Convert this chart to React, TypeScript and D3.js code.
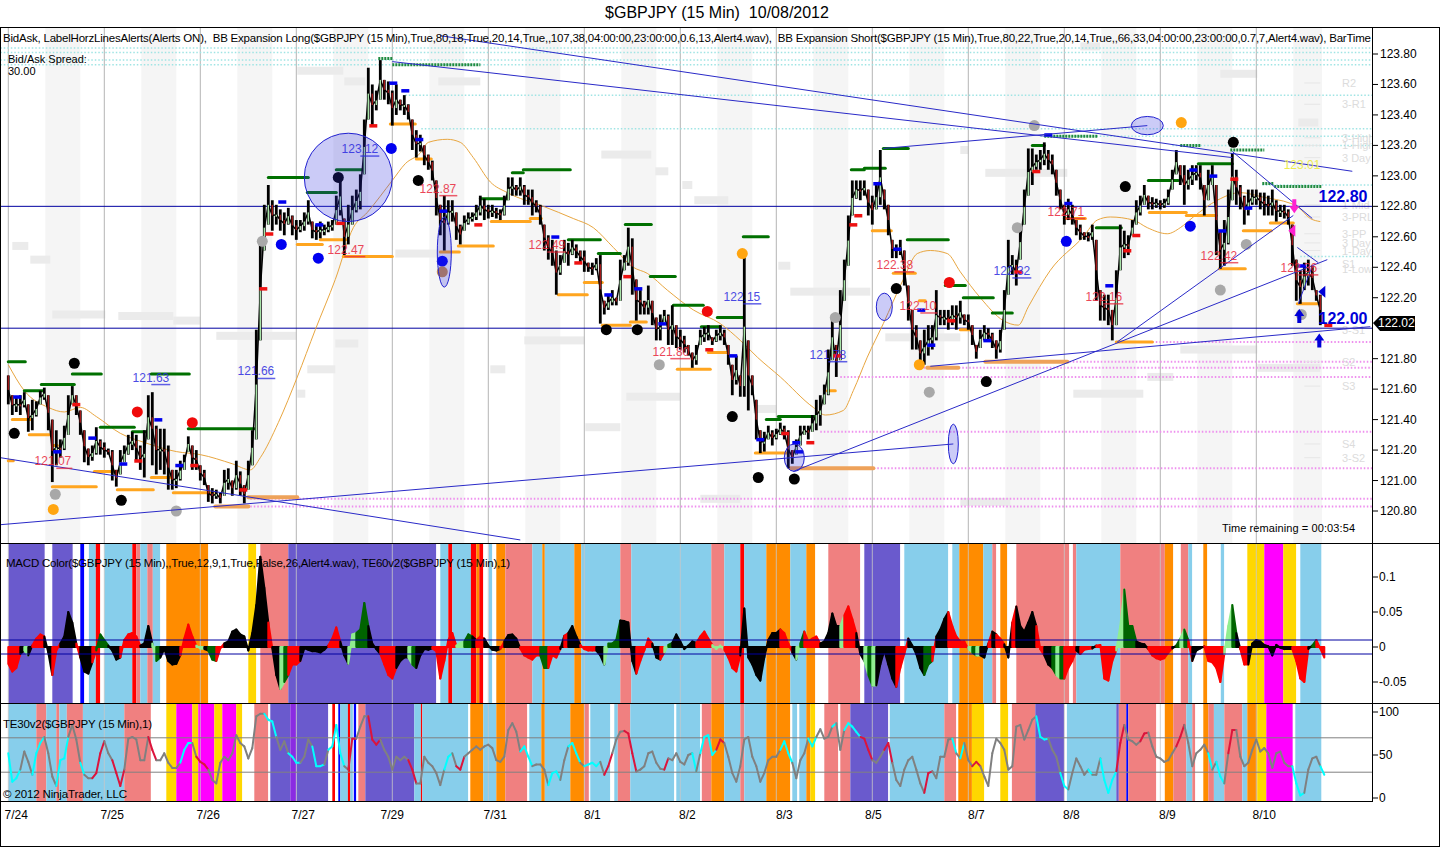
import React from 'react';
import * as d3 from 'd3';

// one entry per hour (4 x 15 min bars): [low, high]
const priceBars: [number, number][] = [
  [121.50,121.69],[121.43,121.56],[121.45,121.55],[121.43,121.56],[121.48,121.58],[121.32,121.50],[121.33,121.53],[121.42,121.52],
  [121.50,121.59],[121.53,121.61],[121.33,121.56],[120.99,121.40],[121.10,121.33],[121.15,121.27],[121.20,121.36],[121.30,121.56],
  [121.50,121.62],[121.43,121.56],[121.30,121.46],[121.12,121.33],[121.10,121.21],[121.13,121.23],[121.17,121.35],[121.17,121.27],
  [121.15,121.25],[121.17,121.21],[121.00,121.20],[120.96,121.07],[121.04,121.20],[121.12,121.23],[121.17,121.30],[121.20,121.32],
  [121.13,121.30],[121.07,121.23],[121.02,121.33],[121.27,121.56],[121.10,121.58],[121.04,121.36],[121.07,121.34],[121.04,121.34],
  [120.94,121.23],[120.94,121.07],[120.95,121.07],[121.00,121.13],[121.07,121.17],[121.19,121.29],[121.07,121.23],[121.07,121.20],
  [121.00,121.10],[120.97,121.07],[120.86,120.97],[120.85,120.95],[120.88,120.94],[120.85,120.92],[120.90,121.07],[120.94,121.08],
  [120.90,121.00],[120.94,121.13],[120.90,121.06],[120.85,120.97],[120.94,121.13],[121.10,121.33],[121.27,121.99],[121.92,122.58],
  [122.51,122.81],[122.68,122.94],[122.64,122.84],[122.68,122.81],[122.64,122.78],[122.61,122.76],[122.68,122.79],[122.61,122.74],
  [122.58,122.71],[122.63,122.71],[122.64,122.76],[122.68,122.84],[122.59,122.70],[122.58,122.68],[122.59,122.70],[122.61,122.68],
  [122.63,122.70],[122.64,122.71],[122.68,122.87],[122.74,122.99],[122.48,122.72],[122.55,122.81],[122.68,122.87],[122.76,122.91],
  [122.78,123.01],[123.01,123.37],[123.37,123.71],[123.33,123.60],[123.43,123.56],[123.50,123.76],[123.50,123.63],[123.47,123.62],
  [123.33,123.56],[123.40,123.60],[123.43,123.50],[123.40,123.53],[123.37,123.47],[123.17,123.37],[123.12,123.30],[123.16,123.27],
  [123.07,123.20],[123.04,123.14],[122.97,123.10],[122.74,122.97],[122.61,122.81],[122.51,122.87],[122.68,122.84],[122.70,122.84],
  [122.58,122.76],[122.55,122.68],[122.64,122.74],[122.68,122.76],[122.70,122.76],[122.71,122.81],[122.74,122.87],[122.71,122.85],
  [122.72,122.81],[122.73,122.81],[122.72,122.79],[122.71,122.78],[122.74,122.87],[122.84,122.99],[122.87,122.99],[122.87,122.94],
  [122.87,122.99],[122.81,122.94],[122.81,122.91],[122.74,122.91],[122.76,122.84],[122.68,122.81],[122.51,122.68],[122.45,122.61],
  [122.41,122.58],[122.22,122.51],[122.35,122.48],[122.43,122.58],[122.41,122.56],[122.48,122.58],[122.46,122.55],[122.43,122.51],
  [122.37,122.51],[122.37,122.43],[122.35,122.43],[122.38,122.46],[122.03,122.48],[122.09,122.18],[122.12,122.22],[122.15,122.25],
  [122.15,122.20],[122.18,122.45],[122.38,122.48],[122.41,122.66],[122.22,122.59],[122.05,122.32],[122.09,122.25],[122.09,122.18],
  [122.09,122.28],[122.02,122.18],[121.92,122.07],[121.92,122.09],[122.04,122.12],[121.89,122.09],[121.89,122.15],[121.87,122.02],
  [121.86,121.99],[121.84,121.95],[121.82,121.89],[121.74,121.84],[121.76,121.89],[121.89,121.99],[121.91,122.01],[121.92,122.02],
  [121.89,121.94],[121.91,121.99],[121.92,122.02],[121.89,121.99],[121.76,121.89],[121.56,121.76],[121.63,121.82],[121.55,121.69],
  [121.55,122.47],[121.46,121.92],[121.56,121.69],[121.27,121.53],[121.18,121.33],[121.19,121.32],[121.27,121.36],[121.23,121.33],
  [121.27,121.34],[121.30,121.38],[121.27,121.36],[121.08,121.33],[121.11,121.20],[121.17,121.27],[121.23,121.36],[121.30,121.36],
  [121.27,121.36],[121.32,121.43],[121.33,121.53],[121.36,121.56],[121.50,121.63],[121.56,121.86],[121.79,122.09],[121.68,121.89],
  [121.79,122.25],[122.18,122.45],[122.41,122.74],[122.74,122.97],[122.85,122.97],[122.84,122.97],[122.87,122.97],[122.74,122.91],
  [122.68,122.87],[122.78,122.94],[122.81,123.17],[122.78,122.91],[122.61,122.81],[122.46,122.58],[122.46,122.55],[122.48,122.58],
  [122.28,122.51],[122.05,122.28],[121.86,122.12],[121.86,122.02],[121.75,121.92],[121.76,121.99],[121.82,122.02],[121.86,122.02],
  [121.92,122.25],[122.02,122.12],[122.02,122.12],[121.99,122.12],[122.02,122.15],[121.99,122.15],[122.03,122.18],[122.02,122.09],
  [121.99,122.09],[121.89,122.02],[121.80,121.89],[121.87,121.99],[121.92,122.02],[121.92,122.00],[121.87,121.97],[121.80,121.92],
  [121.84,121.99],[121.99,122.25],[122.22,122.58],[122.35,122.48],[122.28,122.45],[122.45,122.68],[122.68,122.91],[122.87,123.18],
  [122.94,123.18],[123.04,123.14],[123.04,123.17],[123.07,123.22],[123.04,123.17],[123.01,123.14],[122.87,123.04],[122.78,122.91],
  [122.68,122.81],[122.71,122.85],[122.68,122.81],[122.61,122.71],[122.58,122.68],[122.58,122.63],[122.57,122.63],[122.58,122.68],
  [122.18,122.58],[122.05,122.25],[122.05,122.22],[122.02,122.22],[121.92,122.12],[122.02,122.38],[122.38,122.68],[122.46,122.64],
  [122.48,122.61],[122.61,122.71],[122.68,122.84],[122.74,122.87],[122.81,122.94],[122.78,122.87],[122.78,122.86],[122.79,122.85],
  [122.78,122.84],[122.79,122.85],[122.81,122.91],[122.91,123.04],[123.01,123.17],[122.94,123.07],[122.81,123.07],[122.91,123.04],
  [122.94,123.07],[122.97,123.07],[122.91,123.07],[122.74,122.94],[122.84,123.04],[122.94,123.07],[122.48,122.94],[122.39,122.64],
  [122.41,122.71],[122.55,122.91],[122.84,123.15],[122.81,123.04],[122.78,122.94],[122.68,122.87],[122.74,122.91],[122.81,122.91],
  [122.81,122.91],[122.78,122.89],[122.74,122.89],[122.74,122.87],[122.74,122.91],[122.70,122.84],[122.73,122.81],[122.72,122.81],
  [122.68,122.78],[122.41,122.68],[122.18,122.45],[122.16,122.38],[122.25,122.43],[122.28,122.45],[122.25,122.41],[122.18,122.25],
  [122.02,122.22],
];

// [bar, price]
const maPoints: [number, number][] = [
  [0,121.76],[16,121.59],[40,121.48],[56,121.45],[72,121.48],[88,121.42],[112,121.31],[136,121.25],[168,121.19],[192,121.17],
  [224,121.11],[242,121.07],[252,121.15],[270,121.38],[289,121.68],[307,121.99],[327,122.32],[345,122.66],[359,122.76],[384,122.97],
  [397,123.08],[412,123.15],[420,123.22],[439,123.24],[452,123.22],[465,123.12],[482,122.96],[499,122.89],[535,122.80],[565,122.72],
  [585,122.66],[605,122.53],[625,122.40],[639,122.36],[659,122.25],[685,122.12],[712,122.03],[732,121.92],[749,121.81],[772,121.68],
  [805,121.48],[817,121.43],[835,121.46],[845,121.59],[859,121.81],[875,122.03],[895,122.32],[909,122.49],[922,122.51],[939,122.49],
  [952,122.37],[972,122.20],[995,122.05],[1010,122.02],[1020,122.14],[1042,122.38],[1075,122.60],[1089,122.71],[1102,122.73],[1125,122.71],
  [1139,122.66],[1159,122.62],[1172,122.66],[1185,122.73],[1209,122.84],[1232,122.89],[1255,122.86],[1282,122.82],[1289,122.80],[1302,122.72],[1312,122.70],
];

// [startBar, endBar, price]
const greenLevels: [number, number, number][] = [
  [0,17,121.78],[16,35,121.59],[33,66,121.63],[64,93,121.70],[92,126,121.35],[124,138,121.32],[143,181,121.70],[180,246,121.34],
  [260,300,122.99],[299,328,122.89],[328,354,123.04],[472,499,122.85],[504,515,123.02],[515,562,123.04],[560,592,122.58],[590,612,122.49],
  [617,643,122.68],[642,667,122.34],[665,695,122.15],[693,712,122.01],[709,735,122.07],[735,760,122.60],[758,772,121.40],[770,807,121.42],
  [843,856,123.04],[856,877,123.05],[875,900,123.18],[899,940,122.58],[937,957,122.28],[955,985,122.20],[984,1004,122.10],[1024,1036,123.20],
  [1088,1113,122.66],[1140,1170,122.97],[1190,1224,123.08],
];
const greenDotted: [number, number, number][] = [
  [370,384,123.77],[384,472,123.73],[1036,1090,123.26],[1172,1192,123.20],[1222,1256,123.17],[1254,1266,122.95],[1266,1313,122.93],
];
const orangeLevels: [number, number, number][] = [
  [0,5,121.13],[4,22,121.40],[21,41,121.30],[44,49,121.23],[44,88,120.96],[86,109,121.06],[109,145,120.94],[143,162,121.02],[165,205,120.92],
  [289,314,122.55],[312,338,122.58],[335,384,122.47],[382,407,123.34],[408,423,123.11],[432,451,122.50],[450,485,122.54],[483,522,122.70],
  [522,533,122.72],[550,579,122.22],[576,594,122.30],[594,622,122.02],[622,638,122.04],[669,702,121.73],[700,719,121.84],[747,780,121.18],
  [819,827,121.59],[864,883,122.64],[885,907,122.36],[911,917,122.18],[952,964,121.99],[1056,1077,122.72],[1108,1144,121.91],[1141,1178,122.76],
  [1178,1208,122.74],[1211,1237,122.39],[1235,1263,122.64],[1262,1285,122.69],[1289,1311,122.16],
];
const sandyLevels: [number, number, number][] = [
  [207,240,120.83],[240,289,120.89],[782,865,121.08],[919,950,121.74],[977,1059,121.78],
];
const faintSteps: [number, number, number][] = [
  [289,335,123.69],[336,357,123.62],[430,472,123.62],[4,20,122.54],[22,42,122.45],[44,97,122.09],[110,165,122.08],[165,192,122.05],
  [208,288,121.95],[327,350,121.90],[299,327,121.73],[289,297,121.57],[387,432,122.49],[593,643,123.14],[647,660,123.03],[674,684,122.94],
  [686,720,122.84],[770,782,122.41],[782,862,122.24],[516,576,121.92],[482,497,121.73],[577,612,121.35],[618,672,121.55],[692,732,120.88],
  [745,768,121.47],[877,952,121.94],[952,960,123.17],[977,1059,123.02],[1290,1310,123.35],[1212,1249,123.67],[1072,1092,123.85],
  [1065,1135,121.57],[1139,1165,121.68],[1172,1249,121.86],[1249,1312,121.74],[952,1002,120.86],
];

// [bar, price]
const blackDots: [number, number][] = [[6,121.31],[66,121.77],[113,120.87],[330,122.99],[410,122.97],[598,121.99],[629,121.99],[724,121.42],[750,121.02],[786,121.01],[888,122.26],[978,121.65],[1117,122.93],[1225,123.22]];
const redDots: [number, number][] = [[129,121.45],[184,121.38],[699,122.11],[941,122.30]];
const blueDots: [number, number][] = [[273,122.55],[310,122.46],[383,123.18],[434,122.44],[1058,122.57],[1182,122.67]];
const goldDots: [number, number][] = [[45,120.81],[734,122.49],[911,121.76],[1173,123.35]];
const grayDots: [number, number][] = [[47,120.91],[168,120.80],[254,122.57],[651,121.76],[827,122.07],[921,121.58],[1009,122.66],[1026,123.33],[1238,122.55],[1212,122.25],[1293,122.09]];
const tanDots: [number, number][] = [[434,122.37]];

const redTicks: [number, number][] = [[365,123.33],[261,122.62],[332,122.69],[255,122.26],[68,121.50],[130,121.13],[186,121.10],[235,120.94],[470,122.68],[570,122.43],[619,122.34],[701,121.86],[777,121.31],[802,121.25],[850,122.74],[845,122.68],[829,121.82],[943,122.05],[1028,123.03],[1128,122.61],[1119,122.51],[1010,122.37],[1226,122.98],[1320,122.02]];
const blueTicks: [number, number][] = [[274,122.83],[311,122.68],[385,123.61],[397,123.56],[411,123.24],[9,121.55],[49,121.19],[84,121.28],[115,121.11],[150,121.40],[171,121.10],[435,122.77],[547,122.60],[600,122.22],[630,122.26],[654,122.03],[725,121.82],[752,121.27],[788,121.25],[791,121.19],[869,122.95],[889,122.52],[913,122.12],[923,121.89],[979,121.92],[1040,123.27],[1060,122.82],[1101,122.28],[1185,123.04],[1205,123.00],[1214,122.64],[1240,122.79],[1294,122.41]];

// [text, startBar, endBar, price]
const redLabels: [string, number, number, number][] = [
  ['121.07',48,64,121.08],['122.87',431,449,122.87],['122.47',336,357,122.47],['122.49',539,558,122.50],['121.80',662,682,121.80],
  ['122.38',886,906,122.37],['122.10',912,929,122.10],['122.71',1057,1077,122.72],['122.16',1095,1115,122.16],['122.42',1212,1230,122.43],['122.36',1290,1310,122.35],
];
const blueLabels: [string, number, number, number][] = [
  ['123.12',352,371,123.13],['121.63',143,162,121.63],['121.66',249,267,121.67],['122.15',735,753,122.16],['121.78',820,839,121.78],['122.32',1004,1023,122.33],
];

// [bar0, price0, bar1, price1]
const trendLines: [number, number, number, number][] = [
  [-8,121.15,512,120.61],[-8,120.71,945,121.24],[922,121.75,1362,122.01],[785,121.06,1319,122.45],[1109,121.91,1285,122.74],
  [432,123.92,1344,123.03],[384,123.75,1224,123.12],[875,123.18,1139,123.33],[1224,123.16,1304,122.72],[1289,122.53,1310,122.43],[1290,122.16,1304,122.41],
];
// [bar, price, barRadius, priceRadius]
const ellipses: [number, number, number, number][] = [
  [340,122.99,44,0.29],[436,122.50,7,0.23],[876,122.14,8,0.09],[945,121.24,5,0.13],[786,121.15,10,0.09],[1139,123.33,16,0.06],
];
// [startBar, price]
const cyanPivots: [number, number][] = [[-8,123.84],[-8,123.81],[-8,123.76],[-8,123.73],[397,123.53],[413,123.31],[1032,123.26],[1164,123.20],[1254,122.94],[1292,122.47]];
const pinkPivots: [number, number][] = [[242,120.88],[242,120.83],[792,121.08],[812,121.32],[832,121.68],[912,121.74],[977,121.78],[1109,121.91]];
const pivotLabels: [string, number][] = [
  ['R2',123.61],['3-R1',123.47],['3-High',123.25],['1-High',123.20],['3 Day',123.12],['1-Mid',122.81],['3-PRL',122.73],['3-PP',122.62],
  ['3 Day',122.56],['1-Day',122.51],['S1',122.42],['1-Low',122.39],['3-S1',121.99],['S2',121.78],['S3',121.62],['S4',121.24],['3-S2',121.15],
];
// 122.00 sits under the last-price tag
const priceTicks = [123.8,123.6,123.4,123.2,123.0,122.8,122.6,122.4,122.2,121.8,121.6,121.4,121.2,121.0,120.8];
const macdTicks = [0.1,0.05,0,-0.05];
const teTicks = [100,50,0];
const sessionBars = [0,96,192,288,384,480,576,672,768,864,960,1056,1152,1248];
const dateLabels = ['7/24','7/25','7/26','7/27','7/29','7/31','8/1','8/2','8/3','8/5','8/7','8/8','8/9','8/10'];
const dateBars = [8,104,200,295,384,487,584,679,776,865,968,1063,1159,1256];

const bandColors: Record<string, string> = {
  s: '#6a5acd', k: '#87ceeb', c: '#f08080', o: '#ff8c00', y: '#ffd700', r: '#ff0000', b: '#0000ff', w: '#ffffff', m: '#ff00ff', v: '#8a2be2',
};
const macdBands: [number, number, string][] = [
  [0,36.5,'s'],[36.5,44,'w'],[44,64.5,'s'],[64.5,72,'w'],[72,76,'b'],[76,80.6,'w'],[80.6,87.5,'k'],[87.5,92,'r'],[92,96,'w'],[96,124,'k'],
  [124,128,'r'],[128,132,'c'],[132,139,'k'],[139,144.5,'c'],[144.5,152,'k'],[152,158,'w'],[158,200,'o'],[200,240,'w'],[240,248,'y'],[248,252,'w'],
  [252,280,'c'],[280,428,'s'],[428,432,'w'],[432,440,'k'],[440,444,'r'],[444,462.6,'k'],[462.6,468,'r'],[468,471,'o'],[471,475,'r'],[475,480.5,'w'],
  [480.5,484,'k'],[484,488,'w'],[488,497,'o'],[497,524,'c'],[524,534,'k'],[534,536.5,'o'],[536.5,566,'k'],[566,573,'o'],[573,612,'k'],[612,623,'c'],
  [623,703,'k'],[703,716,'c'],[716,732,'k'],[732,736,'r'],[736,758,'k'],[758,782,'o'],[782,798,'k'],[798,807,'o'],[807,820,'w'],[820,852,'c'],
  [852,856,'w'],[856,892,'s'],[892,896,'w'],[896,940,'k'],[940,944,'w'],[944,951,'k'],[951,975,'o'],[975,984,'k'],[984,988,'c'],[988,992,'w'],
  [992,999,'o'],[999,1008,'w'],[1008,1061,'c'],[1061,1064.6,'w'],[1064.6,1068,'c'],[1068,1112,'k'],[1112,1156.5,'c'],[1156.5,1165,'o'],[1165,1172.5,'w'],[1172.5,1180,'c'],
  [1180,1184,'k'],[1184,1195,'w'],[1195,1199,'o'],[1199,1212.5,'w'],[1212.5,1216,'k'],[1216,1239,'w'],[1239,1256,'y'],[1256,1275,'m'],[1275,1288,'y'],[1288,1292,'w'],[1292,1313,'k'],
];
const teBands: [number, number, string][] = [
  [0,28,'k'],[28,38,'c'],[38,48,'k'],[48,51,'c'],[51,58.5,'k'],[58.5,74.6,'c'],[74.6,116,'k'],[116,142.6,'c'],[142.6,158,'w'],[158,168,'y'],
  [168,184,'m'],[184,190,'y'],[190,206,'m'],[206,214,'y'],[214,228,'m'],[228,234,'y'],[234,246,'w'],[246,260,'c'],[260,262,'w'],[262,282,'s'],
  [282,288,'v'],[288,320,'s'],[320,324,'w'],[324,326.7,'r'],[326.7,330,'w'],[330,332,'b'],[332,339.6,'k'],[339.6,342,'r'],[342,344.6,'k'],[344.6,345.5,'w'],
  [345.5,348,'b'],[348,350,'w'],[350,357,'c'],[357,406,'s'],[406,412.6,'k'],[412.6,414,'r'],[414,460,'k'],[460,462,'w'],[462,475,'o'],[475,488,'k'],
  [488,497,'o'],[497,519,'c'],[519,521,'w'],[521,533,'k'],[533,536.5,'o'],[536.5,562,'k'],[562,576,'o'],[576,580.6,'c'],[580.6,582,'w'],[582,602,'k'],
  [602,606,'w'],[606,609.5,'k'],[609.5,622,'c'],[622,666,'k'],[666,668,'w'],[668,692,'k'],[692,693.5,'w'],[693.5,703,'c'],[703,716,'o'],[716,732,'k'],
  [732,736,'c'],[736,758,'k'],[758,782,'o'],[782,784,'w'],[784,789,'k'],[789,791,'w'],[791,798,'k'],[798,802,'o'],[802,807,'y'],[807,816,'w'],
  [816,830,'c'],[830,832,'w'],[832,842,'c'],[842,880,'s'],[880,881.5,'w'],[881.5,936,'k'],[936,948,'c'],[948,950,'w'],[950,963.6,'o'],[963.6,976,'y'],
  [976,992,'w'],[992,1000,'y'],[1000,1003.6,'w'],[1003.6,1027,'c'],[1027,1056,'s'],[1056,1058.6,'w'],[1058.6,1108,'k'],[1108,1110.5,'s'],[1110.5,1118,'c'],[1118,1120,'b'],
  [1120,1148,'c'],[1148,1156.5,'w'],[1156.5,1165,'o'],[1165,1178,'c'],[1178,1184,'k'],[1184,1187,'c'],[1187,1195,'w'],[1195,1200,'o'],[1200,1205.6,'c'],[1205.6,1216,'k'],
  [1216,1234,'c'],[1234,1239,'k'],[1239,1249,'o'],[1249,1258,'y'],[1258,1284.5,'m'],[1284.5,1287,'w'],[1287,1313,'k'],
];

const macdColors: Record<string, string> = { k: '#000000', r: '#ff0000', g: '#006400', l: '#90ee90' };
// one entry per hour: [macd value, colour key]
const macdBars: [number, string][] = [
  [-.024,'k'],[-.035,'r'],[-.03,'r'],[-.01,'r'],[-.005,'k'],[-.012,'l'],[.002,'k'],[.012,'r'],[.018,'r'],[.015,'r'],[-.008,'k'],[-.04,'k'],[-.005,'r'],[.005,'r'],[.015,'k'],[.05,'k'],
  [.035,'k'],[.005,'k'],[-.015,'r'],[-.035,'k'],[-.038,'k'],[-.022,'k'],[-.005,'r'],[.018,'g'],[.01,'g'],[.002,'g'],[-.005,'k'],[-.018,'k'],[-.015,'k'],[.01,'r'],[.018,'r'],[.02,'r'],
  [.015,'r'],[.002,'r'],[.005,'k'],[.03,'k'],[.005,'k'],[-.02,'l'],[-.015,'g'],[-.003,'k'],[-.02,'k'],[-.025,'k'],[-.024,'k'],[-.012,'k'],[.012,'r'],[.032,'r'],[.015,'r'],[.002,'r'],
  [-.002,'l'],[-.003,'l'],[-.005,'k'],[-.018,'g'],[-.02,'g'],[-.002,'r'],[.005,'r'],[.008,'k'],[.022,'k'],[.025,'k'],[.018,'k'],[.015,'k'],[-.005,'k'],[.02,'k'],[.06,'k'],[.129,'k'],
  [.085,'k'],[.035,'k'],[-.002,'r'],[-.04,'k'],[-.06,'k'],[-.05,'l'],[-.04,'g'],[-.025,'r'],[-.025,'r'],[-.02,'r'],[-.002,'k'],[-.004,'k'],[-.006,'k'],[-.006,'k'],[-.008,'k'],[-.004,'k'],
  [.002,'k'],[.012,'r'],[.028,'r'],[.008,'r'],[-.012,'k'],[-.024,'k'],[.018,'l'],[.02,'l'],[.025,'g'],[.063,'g'],[.03,'g'],[.005,'k'],[-.003,'k'],[-.01,'k'],[-.025,'r'],[-.04,'r'],
  [-.045,'r'],[-.03,'r'],[-.02,'k'],[-.015,'k'],[-.015,'k'],[-.025,'l'],[-.03,'g'],[-.012,'k'],[-.003,'k'],[-.004,'k'],[-.002,'k'],[-.006,'r'],[-.045,'r'],[-.02,'r'],[.01,'r'],[.02,'r'],
  [.002,'r'],[.006,'l'],[.008,'l'],[.018,'g'],[.015,'g'],[.01,'k'],[.015,'r'],[.012,'r'],[.002,'k'],[-.004,'k'],[-.005,'k'],[-.003,'k'],[.008,'r'],[.017,'k'],[.018,'k'],[.012,'k'],
  [-.002,'k'],[-.012,'r'],[-.015,'r'],[-.018,'r'],[-.012,'r'],[-.012,'r'],[-.03,'g'],[-.03,'g'],[-.012,'r'],[-.015,'r'],[-.003,'r'],[.016,'k'],[.02,'r'],[.03,'k'],[.015,'k'],[.003,'k'],
  [-.003,'r'],[-.005,'r'],[-.005,'r'],[-.005,'r'],[-.012,'k'],[-.025,'k'],[.005,'l'],[.005,'g'],[.01,'g'],[.038,'g'],[.037,'k'],[.035,'k'],[-.02,'k'],[-.038,'k'],[-.02,'r'],[-.005,'r'],
  [.012,'r'],[.005,'r'],[-.015,'k'],[-.018,'k'],[-.008,'r'],[.003,'l'],[.006,'g'],[.018,'k'],[.008,'k'],[-.003,'k'],[.002,'k'],[.008,'k'],[.006,'k'],[.015,'r'],[.022,'r'],[.012,'r'],
  [.003,'r'],[-.003,'l'],[.002,'l'],[-.004,'l'],[-.015,'r'],[-.03,'r'],[-.035,'r'],[-.012,'r'],[.055,'k'],[-.015,'k'],[-.025,'k'],[-.04,'k'],[-.048,'k'],[-.015,'k'],[.01,'k'],[.02,'k'],
  [.02,'k'],[.025,'k'],[.02,'r'],[.005,'r'],[-.008,'r'],[-.018,'k'],[.005,'l'],[.022,'g'],[.008,'r'],[.012,'r'],[.015,'r'],[.005,'r'],[.008,'k'],[.02,'k'],[.048,'k'],[.03,'k'],
  [.03,'k'],[.045,'l'],[.058,'r'],[.04,'r'],[.02,'r'],[-.01,'k'],[-.02,'k'],[-.04,'l'],[-.055,'g'],[-.055,'l'],[-.025,'k'],[-.005,'k'],[-.025,'k'],[-.045,'k'],[-.057,'k'],[-.03,'r'],
  [-.01,'r'],[.012,'r'],[.002,'k'],[-.01,'k'],[-.03,'k'],[-.04,'k'],[-.025,'g'],[-.02,'g'],[.015,'r'],[.025,'k'],[.04,'k'],[.05,'k'],[.03,'r'],[.015,'r'],[.008,'r'],[.008,'r'],
  [-.003,'r'],[-.008,'l'],[-.012,'g'],[-.012,'l'],[-.015,'k'],[.005,'k'],[.022,'r'],[.018,'k'],[.012,'r'],[.004,'r'],[-.015,'k'],[.035,'k'],[.058,'r'],[.03,'k'],[.022,'k'],[.035,'k'],
  [.05,'k'],[.03,'k'],[-.003,'r'],[-.012,'r'],[-.025,'k'],[-.03,'k'],[-.04,'g'],[-.045,'l'],[-.045,'g'],[-.03,'r'],[-.02,'r'],[-.005,'r'],[-.01,'k'],[-.004,'r'],[-.003,'r'],[-.002,'r'],
  [.002,'k'],[.003,'r'],[-.045,'r'],[-.048,'r'],[-.02,'r'],[-.005,'r'],[.03,'l'],[.082,'l'],[.03,'g'],[.03,'g'],[.008,'g'],[.005,'k'],[.004,'k'],[-.003,'k'],[-.012,'r'],[-.016,'r'],
  [-.018,'r'],[-.016,'r'],[-.008,'r'],[-.002,'r'],[.002,'k'],[.012,'g'],[.025,'l'],[.01,'g'],[-.02,'r'],[-.005,'k'],[-.002,'k'],[.001,'k'],[-.02,'r'],[-.022,'r'],[-.03,'r'],[-.05,'r'],
  [-.01,'r'],[.03,'l'],[.06,'l'],[.02,'g'],[-.003,'k'],[-.025,'r'],[-.025,'r'],[.005,'k'],[.01,'k'],[.008,'k'],[.003,'k'],[.001,'k'],[-.012,'k'],[.003,'k'],[-.001,'k'],[-.003,'k'],
  [-.003,'k'],[-.003,'k'],[-.02,'r'],[-.045,'r'],[-.05,'r'],[-.003,'r'],[.002,'k'],[.01,'g'],[-.002,'r'],[-.015,'r'],
];

const teColors: Record<string, string> = { g: '#808080', c: '#00ffff', r: '#dc143c' };
// one entry per hour: [TE30 value, colour key]
const tePoints: [number, string][] = [
  [52,'g'],[19,'c'],[23,'c'],[33,'c'],[54,'g'],[42,'g'],[27,'g'],[52,'c'],[64,'c'],[71,'c'],[52,'g'],[25,'g'],[14,'g'],[44,'c'],[46,'c'],[71,'c'],
  [85,'g'],[68,'g'],[41,'g'],[27,'c'],[23,'g'],[23,'g'],[29,'r'],[52,'r'],[66,'r'],[52,'g'],[44,'g'],[29,'r'],[14,'r'],[33,'r'],[69,'g'],[71,'g'],
  [68,'g'],[44,'g'],[44,'g'],[71,'g'],[56,'r'],[44,'r'],[44,'g'],[52,'g'],[41,'g'],[35,'g'],[35,'g'],[41,'g'],[56,'c'],[64,'c'],[64,'c'],[48,'g'],
  [42,'r'],[39,'r'],[33,'r'],[21,'g'],[17,'g'],[41,'g'],[48,'g'],[44,'g'],[52,'g'],[73,'g'],[64,'g'],[60,'g'],[46,'g'],[58,'g'],[95,'g'],[98,'g'],
  [98,'g'],[91,'c'],[89,'c'],[71,'c'],[56,'g'],[66,'g'],[52,'g'],[48,'c'],[41,'c'],[41,'c'],[48,'g'],[68,'g'],[60,'g'],[37,'c'],[37,'c'],[39,'c'],
  [56,'g'],[60,'c'],[85,'c'],[52,'c'],[37,'c'],[33,'g'],[69,'r'],[69,'r'],[83,'g'],[95,'g'],[95,'g'],[68,'r'],[62,'r'],[68,'r'],[56,'g'],[48,'g'],
  [33,'g'],[48,'g'],[44,'g'],[48,'g'],[44,'g'],[33,'r'],[17,'r'],[17,'g'],[48,'g'],[41,'g'],[37,'g'],[29,'g'],[15,'g'],[33,'g'],[48,'c'],[52,'c'],
  [37,'g'],[33,'r'],[48,'r'],[52,'g'],[56,'g'],[60,'g'],[56,'g'],[60,'g'],[62,'g'],[58,'g'],[44,'g'],[42,'g'],[48,'g'],[79,'g'],[87,'g'],[77,'g'],
  [54,'g'],[60,'c'],[48,'c'],[37,'c'],[39,'g'],[39,'g'],[33,'g'],[15,'g'],[29,'c'],[31,'c'],[21,'c'],[44,'g'],[60,'g'],[64,'c'],[52,'c'],[41,'c'],
  [37,'g'],[39,'c'],[41,'c'],[37,'c'],[42,'c'],[27,'g'],[37,'r'],[52,'r'],[68,'g'],[77,'g'],[78,'g'],[75,'r'],[52,'r'],[31,'r'],[33,'g'],[37,'g'],
  [52,'g'],[54,'g'],[41,'g'],[34,'g'],[33,'g'],[46,'r'],[44,'g'],[52,'g'],[42,'g'],[39,'g'],[50,'g'],[52,'g'],[31,'c'],[52,'g'],[71,'c'],[73,'c'],
  [50,'c'],[56,'c'],[68,'r'],[64,'r'],[48,'g'],[29,'g'],[19,'g'],[37,'g'],[68,'g'],[71,'g'],[48,'g'],[37,'g'],[19,'g'],[29,'g'],[44,'g'],[48,'g'],
  [48,'g'],[56,'g'],[66,'c'],[52,'c'],[41,'c'],[23,'g'],[44,'g'],[52,'g'],[69,'g'],[60,'c'],[71,'c'],[80,'g'],[69,'g'],[71,'g'],[83,'g'],[87,'c'],
  [56,'g'],[79,'g'],[87,'c'],[83,'c'],[77,'c'],[71,'c'],[69,'r'],[56,'r'],[44,'r'],[41,'g'],[48,'g'],[56,'g'],[64,'r'],[41,'r'],[21,'g'],[14,'g'],
  [33,'g'],[44,'g'],[48,'g'],[33,'g'],[17,'g'],[6,'g'],[29,'r'],[31,'r'],[23,'g'],[48,'g'],[48,'g'],[68,'g'],[69,'g'],[52,'c'],[46,'g'],[64,'c'],
  [44,'g'],[37,'g'],[42,'r'],[37,'r'],[25,'g'],[14,'g'],[52,'g'],[69,'g'],[64,'g'],[56,'g'],[33,'g'],[37,'g'],[83,'g'],[85,'g'],[68,'g'],[79,'g'],
  [91,'g'],[95,'g'],[71,'c'],[68,'c'],[69,'c'],[56,'g'],[48,'g'],[29,'g'],[14,'c'],[10,'c'],[29,'g'],[46,'g'],[37,'g'],[27,'g'],[33,'g'],[27,'c'],
  [27,'g'],[46,'g'],[21,'c'],[6,'c'],[21,'c'],[31,'c'],[64,'r'],[85,'r'],[68,'g'],[66,'g'],[62,'g'],[66,'g'],[75,'r'],[76,'r'],[60,'g'],[48,'g'],
  [46,'g'],[42,'g'],[44,'g'],[52,'g'],[60,'g'],[71,'r'],[85,'r'],[64,'g'],[37,'g'],[52,'g'],[56,'g'],[62,'g'],[52,'g'],[33,'c'],[42,'g'],[25,'c'],
  [17,'c'],[52,'g'],[79,'r'],[79,'r'],[48,'g'],[37,'g'],[41,'g'],[56,'g'],[68,'g'],[54,'g'],[58,'g'],[52,'g'],[35,'g'],[52,'g'],[54,'g'],[41,'g'],
  [37,'g'],[37,'g'],[17,'c'],[3,'c'],[6,'c'],[33,'g'],[46,'g'],[48,'g'],[37,'g'],[27,'c'],
];

const topLegend = 'BidAsk, LabelHorzLinesAlerts(Alerts ON),  BB Expansion Long($GBPJPY (15 Min),True,80,18,True,20,14,True,,107,38,04:00:00,23:00:00,0.6,13,Alert4.wav),  BB Expansion Short($GBPJPY (15 Min),True,80,22,True,20,14,True,,66,33,04:00:00,23:00:00,0.7,7,Alert4.wav), BarTime';

const FONT = '"Liberation Sans", Arial, sans-serif';
const PANE_RIGHT = 1372;

const App: React.FC = () => {
  const x = d3.scaleLinear().domain([0, 1314]).range([8.3, 1322.3]);
  const yPrice = d3.scaleLinear().domain([123.8, 120.8]).range([54, 511]);
  const yMacd = d3.scaleLinear().domain([0.1, -0.05]).range([577, 682]);
  const yTe = d3.scaleLinear().domain([100, 0]).range([712, 798]);

  const maLine = d3.line<[number, number]>().x(d => x(d[0])).y(d => yPrice(d[1])).curve(d3.curveMonotoneX);

  const dot = (pts: [number, number][], fill: string, r = 5.5) =>
    pts.map((p, i) => <circle key={i} cx={x(p[0])} cy={yPrice(p[1])} r={r} fill={fill} />);
  const levels = (rows: [number, number, number][], color: string, width: number, dash?: string) =>
    rows.map((d, i) => (
      <line key={i} x1={x(d[0])} x2={x(d[1])} y1={yPrice(d[2])} y2={yPrice(d[2])} stroke={color}
        strokeWidth={width} strokeLinecap={dash ? 'butt' : 'round'} strokeDasharray={dash} />
    ));
  const ticks = (pts: [number, number][], color: string, w: number) =>
    pts.map((p, i) => <rect key={i} x={x(p[0]) - w / 2} y={yPrice(p[1]) - 1.5} width={w} height={3.5} fill={color} />);
  const labels = (rows: [string, number, number, number][], color: string) =>
    rows.map((d, i) => (
      <g key={i}>
        <line x1={x(d[1])} x2={x(d[2])} y1={yPrice(d[3])} y2={yPrice(d[3])} stroke={color} strokeWidth={1.5} opacity={0.75} />
        <text x={x(d[2]) - 1} y={yPrice(d[3]) - 3} textAnchor="end" fontSize={12} fill={color} opacity={0.85}>{d[0]}</text>
      </g>
    ));
  const bands = (rows: [number, number, string][], y0: number, y1: number) =>
    rows.map((d, i) => (
      <rect key={i} x={x(d[0])} width={x(d[1]) - x(d[0])} y={y0} height={y1 - y0} fill={bandColors[d[2]]} />
    ));

  const arrowUp = (bar: number, price: number) => {
    const cx = x(bar), cy = yPrice(price);
    return `M${cx},${cy - 7}L${cx + 5},${cy}L${cx + 2},${cy}L${cx + 2},${cy + 7}L${cx - 2},${cy + 7}L${cx - 2},${cy}L${cx - 5},${cy}Z`;
  };
  const arrowDown = (bar: number, price: number) => {
    const cx = x(bar), cy = yPrice(price);
    return `M${cx},${cy + 7}L${cx + 5},${cy}L${cx + 2},${cy}L${cx + 2},${cy - 7}L${cx - 2},${cy - 7}L${cx - 2},${cy}L${cx - 5},${cy}Z`;
  };
  const triLeft = (bar: number, price: number) => {
    const cx = x(bar), cy = yPrice(price);
    return `M${cx - 4},${cy}L${cx + 3},${cy - 6}L${cx + 3},${cy + 6}Z`;
  };

  const mids = priceBars.map(d => (d[0] + d[1]) / 2);
  const closeLine = d3.line<number>().x((_, i) => x(i * 4)).y(v => yPrice(v));
  const macdStep = d3.area<number>().y0(yMacd(0)).y1(v => yMacd(v));

  return (
    <svg width={1440} height={847} style={{ position: 'absolute', left: 0, top: 0, background: '#fff' }} fontFamily={FONT}>
      <defs>
        <clipPath id="pricePane"><rect x={1} y={28} width={PANE_RIGHT - 1} height={515} /></clipPath>
        <clipPath id="macdPane"><rect x={1} y={544} width={PANE_RIGHT - 1} height={159} /></clipPath>
        <clipPath id="tePane"><rect x={1} y={704} width={PANE_RIGHT - 1} height={97} /></clipPath>
      </defs>

      <text x={717} y={18} textAnchor="middle" fontSize={16} fill="#000" xmlSpace="preserve">$GBPJPY (15 Min)  10/08/2012</text>

      <g clipPath="url(#pricePane)">
        {sessionBars.map(b => (
          <rect key={b} x={x(b + 37)} y={28} width={Math.min(35, 1322 - x(b + 37))} height={515} fill="#f5f5f5" />
        ))}
        {faintSteps.map((d, i) => (
          <rect key={i} x={x(d[0])} width={x(d[1]) - x(d[0])} y={yPrice(d[2]) - 4} height={8} fill="#ebebeb" />
        ))}
        {sessionBars.map(b => (
          <line key={b} x1={x(b)} x2={x(b)} y1={28} y2={543} stroke="#b4b4b4" strokeWidth={1} />
        ))}
        {cyanPivots.map((d, i) => (
          <line key={i} x1={x(d[0])} x2={PANE_RIGHT} y1={yPrice(d[1])} y2={yPrice(d[1])} stroke="#9fe4e4" strokeWidth={1.5} strokeDasharray="1.5 2" />
        ))}
        {pinkPivots.map((d, i) => (
          <line key={i} x1={x(d[0])} x2={PANE_RIGHT} y1={yPrice(d[1])} y2={yPrice(d[1])} stroke="#ee90ee" strokeWidth={2} strokeDasharray="1.5 2" />
        ))}
        {pivotLabels.map((d, i) => (
          <g key={i}>
            <line x1={x(1296)} x2={x(1312)} y1={yPrice(d[1])} y2={yPrice(d[1])} stroke="#e6e6e6" />
            <text x={1342} y={yPrice(d[1]) + 4} fontSize={11} fill="#dcdcdc">{d[0]}</text>
          </g>
        ))}
        <line x1={0} x2={PANE_RIGHT} y1={yPrice(122.8)} y2={yPrice(122.8)} stroke="#0000a0" strokeWidth={1} />
        <line x1={0} x2={PANE_RIGHT} y1={yPrice(122)} y2={yPrice(122)} stroke="#0000a0" strokeWidth={1} />
        <path d={maLine(maPoints) ?? ''} fill="none" stroke="#e8a640" strokeWidth={1} />

        {levels(greenLevels, '#007000', 3)}
        {levels(greenDotted, '#1f8a3f', 3, '2 1')}
        {levels(orangeLevels, '#ffa51f', 3)}
        {levels(sandyLevels, '#eea25a', 4)}

        {/* candles: black tile for the range, coloured core for the body */}
        <path d={closeLine(mids) ?? ''} fill="none" stroke="#000" strokeWidth={1.5} />
        {priceBars.map((d, i) => {
          const bx = x(i * 4);
          return <line key={i} x1={bx} x2={bx} y1={yPrice(d[1])} y2={yPrice(d[0])} stroke="#000" strokeWidth={2.8} />;
        })}
        {priceBars.map((d, i) => {
          const bx = x(i * 4);
          const open = i > 0 ? mids[i - 1] : d[1];
          const close = mids[i];
          const top = Math.max(Math.min(Math.max(open, close), d[1]), d[0]);
          const bot = Math.min(Math.max(Math.min(open, close), d[0]), d[1]);
          return (
            <rect key={i} x={bx - 0.7} y={yPrice(top)} width={1.4} height={Math.max(yPrice(bot) - yPrice(top), 2)}
              fill={close >= open ? '#a8e4a8' : '#a01818'} />
          );
        })}

        {ticks(redTicks, '#ee1111', 8)}
        {ticks(blueTicks, '#0000ee', 8)}
        {dot(blackDots, '#000')}
        {dot(redDots, '#f00a0a')}
        {dot(blueDots, '#0000f0')}
        {dot(goldDots, '#ffa510')}
        {dot(grayDots, '#a8a8a8')}
        {dot(tanDots, '#c58a4a')}

        {trendLines.map((d, i) => (
          <line key={i} x1={x(d[0])} y1={yPrice(d[1])} x2={x(d[2])} y2={yPrice(d[3])} stroke="#2a2ac8" strokeWidth={1} />
        ))}
        {ellipses.map((d, i) => (
          <ellipse key={i} cx={x(d[0])} cy={yPrice(d[1])} rx={x(d[0] + d[2]) - x(d[0])} ry={yPrice(d[1] - d[3]) - yPrice(d[1])}
            fill="#3030e0" fillOpacity={0.25} stroke="#2020d0" strokeWidth={1} />
        ))}

        {labels(redLabels, '#e8283c')}
        {labels(blueLabels, '#2c2ce0')}
        <text x={1302} y={169} textAnchor="middle" fontSize={12} fill="#ecec50">123.01</text>

        <path d={arrowUp(1291, 122.08)} fill="#0000d8" />
        <path d={arrowUp(1311, 121.92)} fill="#0000d8" />
        <path d={arrowDown(1286, 122.80)} fill="#ff20d0" />
        <path d={triLeft(1284, 122.64)} fill="#ff20d0" />
        <path d={triLeft(1314, 122.24)} fill="#0000d8" />

        <text x={1343} y={202} textAnchor="middle" fontSize={16} fontWeight="bold" fill="#0000d8">122.80</text>
        <text x={1343} y={324} textAnchor="middle" fontSize={16} fontWeight="bold" fill="#0000d8">122.00</text>
        <text x={3} y={42} fontSize={11.5} fill="#000" textLength={1368} lengthAdjust="spacing" xmlSpace="preserve">{topLegend}</text>
        <text x={8} y={63} fontSize={11} fill="#000">Bid/Ask Spread:</text>
        <text x={8} y={75} fontSize={11} fill="#000">30.00</text>
        <text x={1222} y={532} fontSize={11} fill="#000" textLength={133}>Time remaining = 00:03:54</text>
      </g>

      <g clipPath="url(#macdPane)">
        {bands(macdBands, 544, 703)}
        {sessionBars.map(b => <line key={b} x1={x(b)} x2={x(b)} y1={544} y2={703} stroke="#c8c8c8" strokeWidth={1} opacity={0.8} />)}
        {macdBars.slice(1).map((d, i) => (
          <path key={i} d={macdStep.x((_, k) => x((i + k) * 4))([macdBars[i][0], d[0]]) ?? ''}
            fill={macdColors[d[1]]} stroke={macdColors[d[1]]} strokeWidth={2} strokeLinejoin="round" />
        ))}
        <line x1={0} x2={PANE_RIGHT} y1={yMacd(0.01)} y2={yMacd(0.01)} stroke="#0000a0" strokeWidth={1} />
        <line x1={0} x2={PANE_RIGHT} y1={yMacd(-0.01)} y2={yMacd(-0.01)} stroke="#0000a0" strokeWidth={1} />
        <text x={6} y={567} fontSize={11.5} fill="#000" textLength={504} lengthAdjust="spacing">MACD Color($GBPJPY (15 Min),,True,12,9,1,True,False,26,Alert4.wav), TE60v2($GBPJPY (15 Min),1)</text>
      </g>

      <g clipPath="url(#tePane)">
        {bands(teBands, 704, 801)}
        {sessionBars.map(b => <line key={b} x1={x(b)} x2={x(b)} y1={704} y2={801} stroke="#c8c8c8" strokeWidth={1} opacity={0.8} />)}
        <line x1={0} x2={PANE_RIGHT} y1={yTe(70)} y2={yTe(70)} stroke="#808080" strokeWidth={1} />
        <line x1={0} x2={PANE_RIGHT} y1={yTe(30)} y2={yTe(30)} stroke="#808080" strokeWidth={1} />
        {tePoints.slice(1).map((d, i) => (
          <path key={i} d={d3.line<number>().x((_, k) => x((i + k) * 4)).y(v => yTe(v))([tePoints[i][0], d[0]]) ?? ''}
            fill="none" stroke={teColors[d[1]]} strokeWidth={2} strokeLinecap="round" />
        ))}
        <text x={3} y={728} fontSize={11.5} fill="#000" textLength={149} lengthAdjust="spacing">TE30v2($GBPJPY (15 Min),1)</text>
        <text x={3} y={798} fontSize={11.5} fill="#000" textLength={124} lengthAdjust="spacing">© 2012 NinjaTrader, LLC</text>
      </g>

      {/* pane frames and axes */}
      <rect x={0.5} y={27.5} width={1439} height={819} fill="none" stroke="#000" />
      <line x1={0} x2={1440} y1={543.5} y2={543.5} stroke="#000" />
      <line x1={0} x2={1440} y1={703.5} y2={703.5} stroke="#000" />
      <line x1={0} x2={1372} y1={801.5} y2={801.5} stroke="#000" />
      <line x1={1372.5} x2={1372.5} y1={27} y2={802} stroke="#000" />

      {priceTicks.map(t => (
        <g key={t}>
          <line x1={1372} x2={1378} y1={yPrice(t)} y2={yPrice(t)} stroke="#000" />
          <text x={1380} y={yPrice(t) + 4} fontSize={12} fill="#000">{t.toFixed(2)}</text>
        </g>
      ))}
      {macdTicks.map(t => (
        <g key={t}>
          <line x1={1372} x2={1378} y1={yMacd(t)} y2={yMacd(t)} stroke="#000" />
          <text x={1379} y={yMacd(t) + 4} fontSize={12} fill="#000">{t}</text>
        </g>
      ))}
      {teTicks.map(t => (
        <g key={t}>
          <line x1={1372} x2={1378} y1={yTe(t)} y2={yTe(t)} stroke="#000" />
          <text x={1379} y={yTe(t) + 4} fontSize={12} fill="#000">{t}</text>
        </g>
      ))}
      {dateLabels.map((d, i) => (
        <text key={d} x={x(dateBars[i])} y={819} textAnchor="middle" fontSize={12} fill="#000">{d}</text>
      ))}

      <path d="M1373,323 L1380,316 L1415,316 L1415,331 L1380,331 Z" fill="#000" />
      <text x={1378} y={327} fontSize={12} fill="#fff">122.02</text>
    </svg>
  );
};

export default App;
